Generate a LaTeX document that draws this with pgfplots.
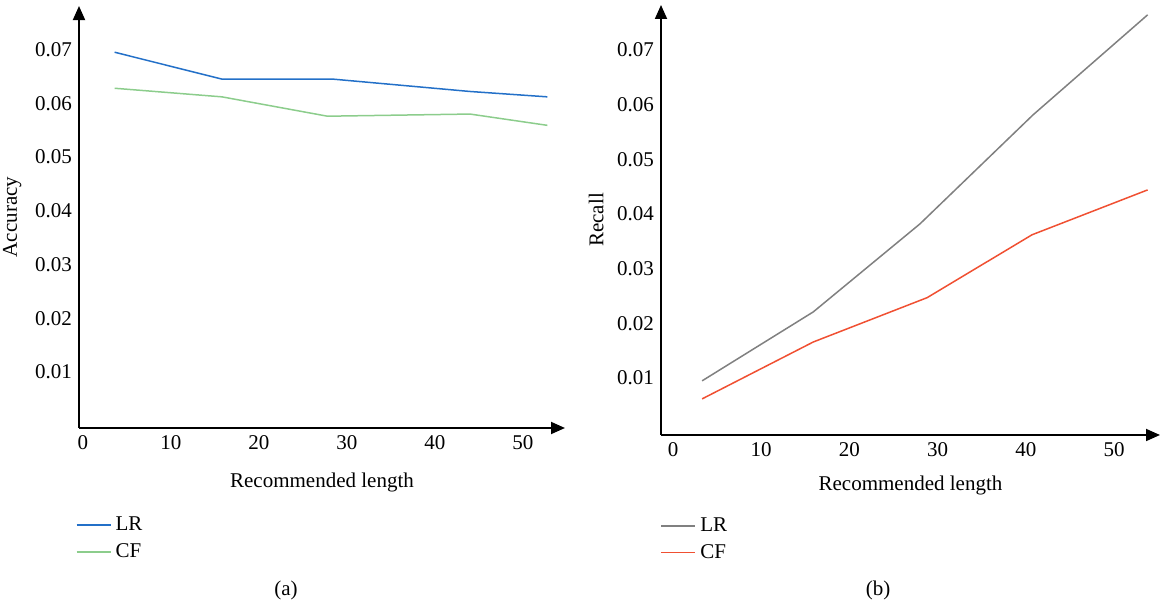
\documentclass[border=0pt]{standalone}
\usepackage{fontspec}
\setmainfont{Liberation Serif}
\usepackage{pgfplots}
\pgfplotsset{compat=1.18}
\usetikzlibrary{arrows.meta}

\definecolor{lrblue}{RGB}{35,112,200}
\definecolor{cfgreen}{RGB}{140,205,140}
\definecolor{lrgray}{RGB}{128,128,128}
\definecolor{cfred}{RGB}{240,80,50}

\pgfplotsset{
  recstyle/.style={
    scale only axis,
    anchor=south west,
    axis lines=left,
    axis line style={line width=0.9pt, -{Triangle[length=7pt,width=6pt]}},
    major tick length=0pt,
    xtick={0,10,20,30,40,50},
    xticklabels={0,10,20,30,40,50},
    ytick={0.01,0.02,0.03,0.04,0.05,0.06,0.07},
    yticklabels={0.01,0.02,0.03,0.04,0.05,0.06,0.07},
    tick label style={font=\fontsize{10.5}{12}\selectfont},
    label style={font=\fontsize{10.5}{12}\selectfont},
    xlabel={Recommended length},
    xlabel style={yshift=-5pt},
    legend style={draw=none, fill=none, font=\fontsize{10.5}{12}\selectfont,
      row sep=1pt, anchor=north west},
    legend cell align=left,
    legend image post style={line width=0.9pt},
    every axis plot/.append style={line width=0.75pt},
  }
}

\begin{document}
\begin{tikzpicture}
\useasboundingbox (0,0) rectangle (583.5pt,305pt);

% (a) accuracy
\begin{axis}[recstyle,
  at={(39.5pt,91pt)},
  width=243pt, height=211pt,
  xmin=-0.45, xmax=54.8,
  ymin=-0.0004, ymax=0.0781,
  ylabel={Accuracy},
  legend style={at={(-0.02,-0.19)}},
]
\addplot[color=lrblue] coordinates {
(3.6,0.0695) (15.8,0.0645) (28.4,0.0645) (44,0.0622) (52.8,0.0612)
};
\addlegendentry{LR}
\addplot[color=cfgreen] coordinates {
(3.6,0.0628) (15.8,0.0612) (27.8,0.0576) (44,0.0580) (52.8,0.0559)
};
\addlegendentry{CF}
\end{axis}

% (b) recall
\begin{axis}[recstyle,
  at={(330.5pt,87.5pt)},
  width=249.5pt, height=215pt,
  xmin=-1.36, xmax=55.2,
  ymin=-0.0004, ymax=0.0782,
  ylabel={Recall},
  xlabel style={yshift=2pt},
  legend style={at={(-0.014,-0.172)}},
]
\addplot[color=lrgray] coordinates {
(3.3,0.0095) (15.9,0.0221) (28.0,0.0382) (40.8,0.0581) (53.8,0.0764)
};
\addlegendentry{LR}
\addplot[color=cfred] coordinates {
(3.3,0.0062) (15.9,0.0166) (28.8,0.0247) (40.7,0.0362) (53.8,0.0444)
};
\addlegendentry{CF}
\end{axis}

\node[font=\fontsize{10.5}{12}\selectfont] at (143pt,10pt) {(a)};
\node[font=\fontsize{10.5}{12}\selectfont] at (439pt,10pt) {(b)};
\end{tikzpicture}
\end{document}
